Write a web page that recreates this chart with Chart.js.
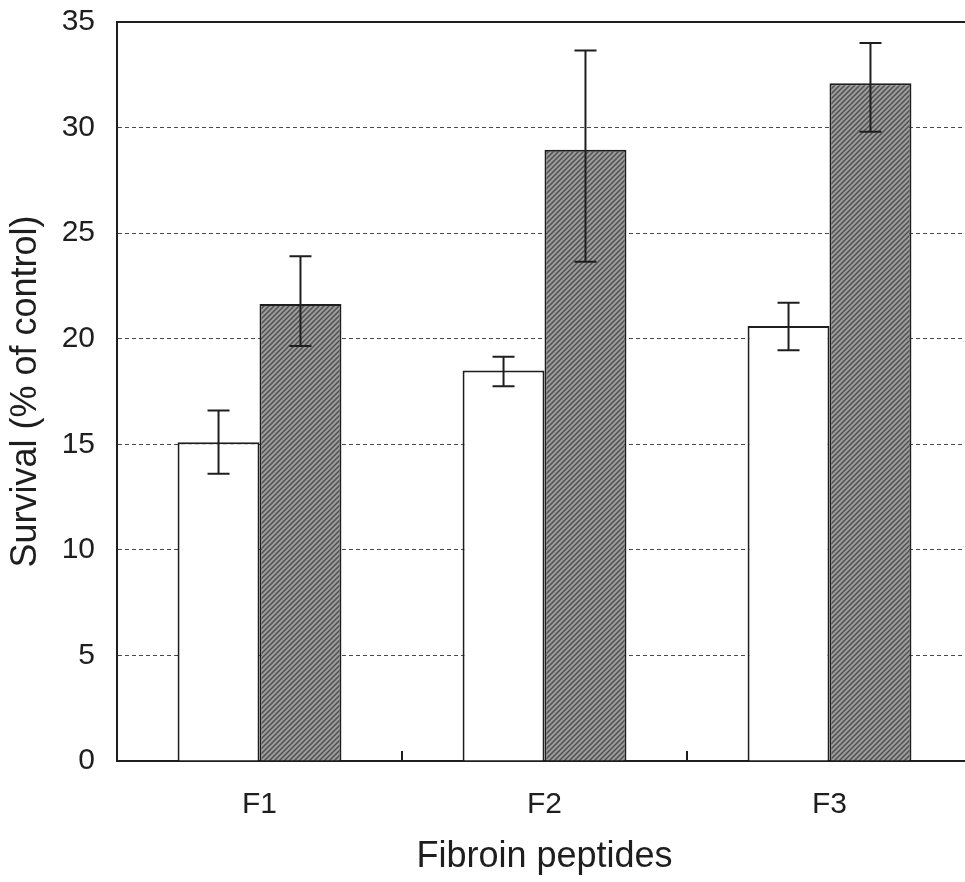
<!DOCTYPE html>
<html><head><meta charset="utf-8">
<script src="https://cdn.jsdelivr.net/npm/chart.js@4"></script>
<style>
html,body{margin:0;padding:0;overflow:hidden;background:#fff;width:965px;height:882px}
#wrap{position:absolute;left:0;top:0;width:985px;height:882px}
</style>
</head><body><div id="wrap"><canvas id="c" width="985" height="882"></canvas></div>
<script>
// ---- data ----
const categories = ['F1', 'F2', 'F3'];
const whiteValues   = [15.1, 18.5, 20.6];
const whiteErrUp    = [1.5, 0.65, 1.1];
const whiteErrDown  = [1.5, 0.75, 1.15];
const greyValues    = [21.65, 28.95, 32.1];
const greyErrUp     = [2.25, 4.7, 1.9];
const greyErrDown   = [2.0, 5.3, 2.3];
const yTickValues   = [0, 5, 10, 15, 20, 25, 30, 35];
const xTitle = 'Fibroin peptides';
const yTitle = 'Survival (% of control)';

const FONT = '"Liberation Sans", Arial, sans-serif';
const INK = '#1e1e1e';

function makePattern(ctx) {
  const t = document.createElement('canvas');
  t.width = 5; t.height = 5;
  const g = t.getContext('2d');
  g.fillStyle = '#9c9c9c'; g.fillRect(0, 0, 5, 5);
  g.strokeStyle = '#505050'; g.lineWidth = 1.5;
  g.beginPath();
  g.moveTo(-1, 6); g.lineTo(6, -1);
  g.moveTo(-1, 1); g.lineTo(1, -1);
  g.moveTo(4, 6); g.lineTo(6, 4);
  g.stroke();
  return ctx.createPattern(t, 'repeat');
}

const errorBars = {
  id: 'errorBars',
  afterDatasetsDraw(chart) {
    const ctx = chart.ctx, y = chart.scales.y;
    chart.data.datasets.forEach((ds, di) => {
      const meta = chart.getDatasetMeta(di);
      meta.data.forEach((bar, i) => {
        const v = ds.data[i];
        const hi = y.getPixelForValue(v + ds.errUp[i]);
        const lo = y.getPixelForValue(v - ds.errDown[i]);
        ctx.save();
        ctx.strokeStyle = INK; ctx.lineWidth = 2;
        ctx.beginPath();
        ctx.moveTo(bar.x, hi); ctx.lineTo(bar.x, lo);
        ctx.moveTo(bar.x - 11, hi); ctx.lineTo(bar.x + 11, hi);
        ctx.moveTo(bar.x - 11, lo); ctx.lineTo(bar.x + 11, lo);
        ctx.stroke();
        ctx.restore();
      });
    });
  }
};

const frame = {
  id: 'frame',
  afterDatasetsDraw(chart) {
    const ctx = chart.ctx, a = chart.chartArea, x = chart.scales.x;
    ctx.save();
    ctx.strokeStyle = INK; ctx.lineWidth = 2;
    ctx.beginPath();
    ctx.moveTo(a.left - 1, a.top); ctx.lineTo(a.right + 1, a.top);
    ctx.stroke();
    // inward category-boundary ticks
    for (let i = 1; i < categories.length; i++) {
      const bx = (x.getPixelForValue(i - 1) + x.getPixelForValue(i)) / 2;
      ctx.beginPath();
      ctx.moveTo(bx, a.bottom); ctx.lineTo(bx, a.bottom - 10);
      ctx.stroke();
    }
    ctx.restore();
  }
};

const ctx = document.getElementById('c').getContext('2d');
const pattern = makePattern(ctx);

new Chart(ctx, {
  type: 'bar',
  data: {
    labels: categories,
    datasets: [
      { data: whiteValues, errUp: whiteErrUp, errDown: whiteErrDown,
        backgroundColor: '#ffffff', borderColor: INK, borderWidth: 2,
        barPercentage: 1, categoryPercentage: 0.575 },
      { data: greyValues, errUp: greyErrUp, errDown: greyErrDown,
        backgroundColor: pattern, borderColor: INK, borderWidth: 2,
        barPercentage: 1, categoryPercentage: 0.575 }
    ]
  },
  options: {
    responsive: false,
    animation: false,
    events: [],
    layout: { padding: { top: 22, right: 13, left: 0, bottom: 0 } },
    plugins: { legend: { display: false }, tooltip: { enabled: false }, title: { display: false } },
    scales: {
      x: {
        grid: { display: false, drawTicks: false },
        border: { display: true, color: INK, width: 2 },
        ticks: { color: INK, font: { family: FONT, size: 30 }, padding: 26 },
        title: { display: true, text: xTitle, color: INK,
                 font: { family: FONT, size: 36 }, padding: { top: 0, bottom: 3 } },
        afterFit(s) { s.height = 882 - 761; s.paddingLeft = 0; s.paddingRight = 0; s.paddingTop = 0; s.paddingBottom = 0; }
      },
      y: {
        min: 0, max: 35,
        afterBuildTicks(s) { s.ticks = yTickValues.map(v => ({ value: v })); },
        grid: {
          drawTicks: false,
          color: c => (c.tick && (c.tick.value === 0 || c.tick.value === 35)) ? 'rgba(0,0,0,0)' : '#4a4a4a',
          lineWidth: 1
        },
        border: { display: true, color: INK, width: 2, dash: [4, 3] },
        ticks: { color: INK, font: { family: FONT, size: 30 }, padding: 22 },
        title: { display: true, text: yTitle, color: INK,
                 font: { family: FONT, size: 36 }, padding: { top: 4, bottom: 0 } },
        afterFit(s) { s.width = 117; s.paddingTop = 0; s.paddingBottom = 0; s.paddingLeft = 0; s.paddingRight = 0; }
      }
    }
  },
  plugins: [errorBars, frame]
});
</script>
</body></html>
